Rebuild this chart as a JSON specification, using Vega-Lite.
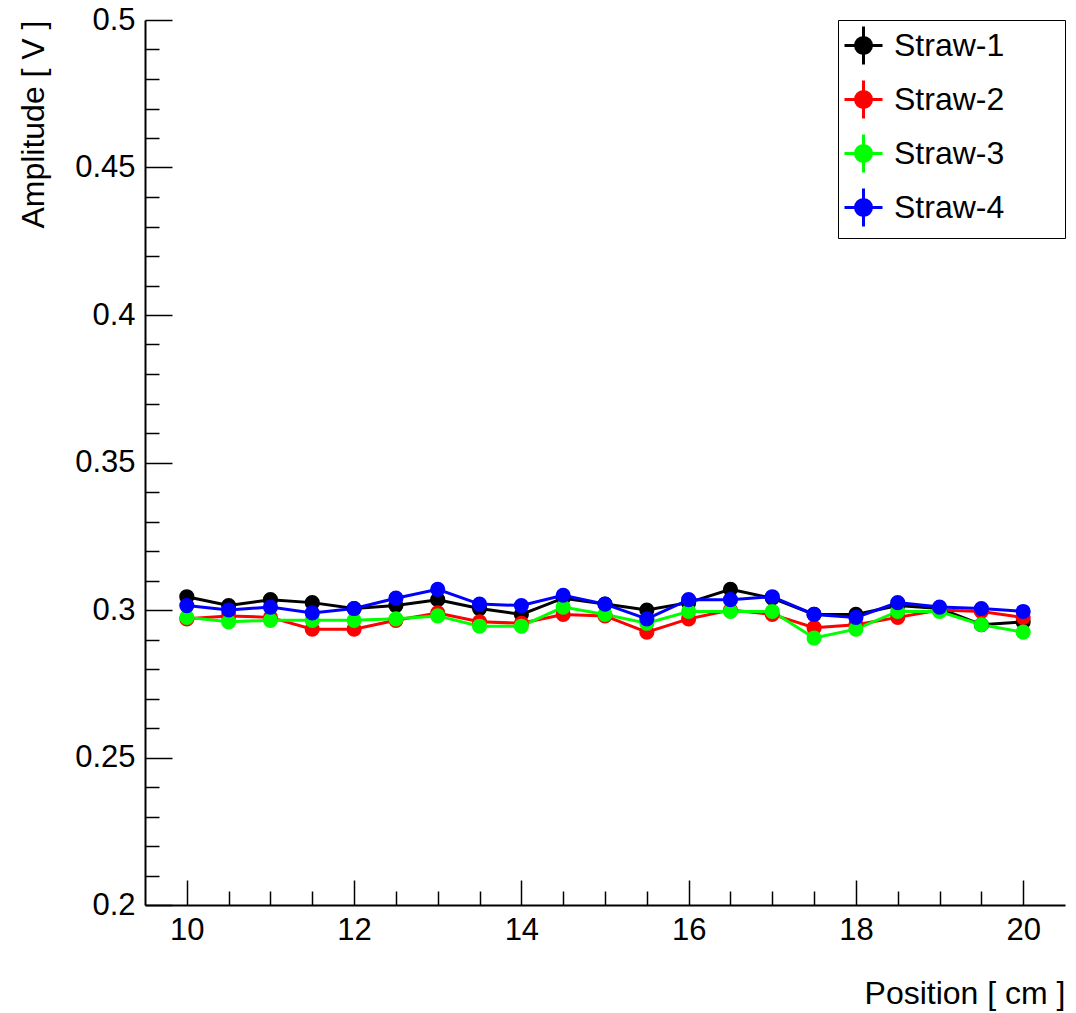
{
  "$schema": "https://vega.github.io/schema/vega-lite/v6.json",
  "width": 920,
  "height": 885,
  "autosize": "none",
  "padding": {"left": 145, "top": 20, "right": 11, "bottom": 108},
  "background": "white",
  "config": {
    "view": {"stroke": null},
    "font": "Liberation Sans",
    "axis": {"grid": false, "domainColor": "black", "domainWidth": 2, "tickColor": "black", "tickWidth": 1.5, "labelColor": "black", "titleColor": "black", "labelFont": "Liberation Sans", "titleFont": "Liberation Sans", "titleFontWeight": "normal"}
  },
  "data": {"values": [
    {"x": 10, "amp": 0.3045, "straw": "Straw-1"}, {"x": 10.5, "amp": 0.3015, "straw": "Straw-1"}, {"x": 11, "amp": 0.3035, "straw": "Straw-1"}, {"x": 11.5, "amp": 0.3025, "straw": "Straw-1"}, {"x": 12, "amp": 0.3005, "straw": "Straw-1"}, {"x": 12.5, "amp": 0.3015, "straw": "Straw-1"}, {"x": 13, "amp": 0.3035, "straw": "Straw-1"}, {"x": 13.5, "amp": 0.3005, "straw": "Straw-1"}, {"x": 14, "amp": 0.2985, "straw": "Straw-1"}, {"x": 14.5, "amp": 0.304, "straw": "Straw-1"}, {"x": 15, "amp": 0.302, "straw": "Straw-1"}, {"x": 15.5, "amp": 0.3, "straw": "Straw-1"}, {"x": 16, "amp": 0.3025, "straw": "Straw-1"}, {"x": 16.5, "amp": 0.307, "straw": "Straw-1"}, {"x": 17, "amp": 0.304, "straw": "Straw-1"}, {"x": 17.5, "amp": 0.2985, "straw": "Straw-1"}, {"x": 18, "amp": 0.2985, "straw": "Straw-1"}, {"x": 18.5, "amp": 0.3015, "straw": "Straw-1"}, {"x": 19, "amp": 0.3005, "straw": "Straw-1"}, {"x": 19.5, "amp": 0.295, "straw": "Straw-1"}, {"x": 20, "amp": 0.296, "straw": "Straw-1"},
    {"x": 10, "amp": 0.297, "straw": "Straw-2"}, {"x": 10.5, "amp": 0.298, "straw": "Straw-2"}, {"x": 11, "amp": 0.2975, "straw": "Straw-2"}, {"x": 11.5, "amp": 0.2935, "straw": "Straw-2"}, {"x": 12, "amp": 0.2935, "straw": "Straw-2"}, {"x": 12.5, "amp": 0.2965, "straw": "Straw-2"}, {"x": 13, "amp": 0.299, "straw": "Straw-2"}, {"x": 13.5, "amp": 0.296, "straw": "Straw-2"}, {"x": 14, "amp": 0.2955, "straw": "Straw-2"}, {"x": 14.5, "amp": 0.2985, "straw": "Straw-2"}, {"x": 15, "amp": 0.298, "straw": "Straw-2"}, {"x": 15.5, "amp": 0.2925, "straw": "Straw-2"}, {"x": 16, "amp": 0.297, "straw": "Straw-2"}, {"x": 16.5, "amp": 0.3, "straw": "Straw-2"}, {"x": 17, "amp": 0.2985, "straw": "Straw-2"}, {"x": 17.5, "amp": 0.294, "straw": "Straw-2"}, {"x": 18, "amp": 0.295, "straw": "Straw-2"}, {"x": 18.5, "amp": 0.2975, "straw": "Straw-2"}, {"x": 19, "amp": 0.3, "straw": "Straw-2"}, {"x": 19.5, "amp": 0.2995, "straw": "Straw-2"}, {"x": 20, "amp": 0.2975, "straw": "Straw-2"},
    {"x": 10, "amp": 0.2975, "straw": "Straw-3"}, {"x": 10.5, "amp": 0.296, "straw": "Straw-3"}, {"x": 11, "amp": 0.2965, "straw": "Straw-3"}, {"x": 11.5, "amp": 0.2965, "straw": "Straw-3"}, {"x": 12, "amp": 0.2965, "straw": "Straw-3"}, {"x": 12.5, "amp": 0.297, "straw": "Straw-3"}, {"x": 13, "amp": 0.298, "straw": "Straw-3"}, {"x": 13.5, "amp": 0.2945, "straw": "Straw-3"}, {"x": 14, "amp": 0.2945, "straw": "Straw-3"}, {"x": 14.5, "amp": 0.301, "straw": "Straw-3"}, {"x": 15, "amp": 0.2985, "straw": "Straw-3"}, {"x": 15.5, "amp": 0.2955, "straw": "Straw-3"}, {"x": 16, "amp": 0.2995, "straw": "Straw-3"}, {"x": 16.5, "amp": 0.2995, "straw": "Straw-3"}, {"x": 17, "amp": 0.2995, "straw": "Straw-3"}, {"x": 17.5, "amp": 0.2905, "straw": "Straw-3"}, {"x": 18, "amp": 0.2935, "straw": "Straw-3"}, {"x": 18.5, "amp": 0.2995, "straw": "Straw-3"}, {"x": 19, "amp": 0.2995, "straw": "Straw-3"}, {"x": 19.5, "amp": 0.295, "straw": "Straw-3"}, {"x": 20, "amp": 0.2925, "straw": "Straw-3"},
    {"x": 10, "amp": 0.3015, "straw": "Straw-4"}, {"x": 10.5, "amp": 0.3, "straw": "Straw-4"}, {"x": 11, "amp": 0.301, "straw": "Straw-4"}, {"x": 11.5, "amp": 0.299, "straw": "Straw-4"}, {"x": 12, "amp": 0.3005, "straw": "Straw-4"}, {"x": 12.5, "amp": 0.304, "straw": "Straw-4"}, {"x": 13, "amp": 0.307, "straw": "Straw-4"}, {"x": 13.5, "amp": 0.302, "straw": "Straw-4"}, {"x": 14, "amp": 0.3015, "straw": "Straw-4"}, {"x": 14.5, "amp": 0.305, "straw": "Straw-4"}, {"x": 15, "amp": 0.302, "straw": "Straw-4"}, {"x": 15.5, "amp": 0.297, "straw": "Straw-4"}, {"x": 16, "amp": 0.3035, "straw": "Straw-4"}, {"x": 16.5, "amp": 0.3035, "straw": "Straw-4"}, {"x": 17, "amp": 0.3045, "straw": "Straw-4"}, {"x": 17.5, "amp": 0.2985, "straw": "Straw-4"}, {"x": 18, "amp": 0.2975, "straw": "Straw-4"}, {"x": 18.5, "amp": 0.3025, "straw": "Straw-4"}, {"x": 19, "amp": 0.301, "straw": "Straw-4"}, {"x": 19.5, "amp": 0.3005, "straw": "Straw-4"}, {"x": 20, "amp": 0.2995, "straw": "Straw-4"}
  ]},
  "resolve": {"axis": {"x": "independent", "y": "independent"}},
  "layer": [
    {
      "mark": {"type": "line", "strokeWidth": 3},
      "encoding": {
        "x": {"field": "x", "type": "quantitative", "scale": {"domain": [9.5, 20.5], "nice": false, "zero": false},
          "axis": {"orient": "bottom", "values": [10, 12, 14, 16, 18, 20], "tickSize": -25, "labelPadding": 35, "labelFontSize": 31, "labelFlush": false, "labelOverlap": false,
            "title": "Position [ cm ]", "titleFontSize": 32, "titleX": 920, "titleY": 88, "titleAlign": "right", "titleBaseline": "middle", "titleAnchor": null}},
        "y": {"field": "amp", "type": "quantitative", "scale": {"domain": [0.2, 0.5], "nice": false, "zero": false},
          "axis": {"orient": "left", "values": [0.2, 0.25, 0.3, 0.35, 0.4, 0.45, 0.5], "format": "~g", "tickSize": -27, "labelPadding": 37, "labelFontSize": 31, "labelFlush": false, "labelOverlap": false, "labelBaseline": "middle",
            "title": "Amplitude [ V ]", "titleFontSize": 32, "titleAngle": -90, "titleX": -112, "titleY": 0, "titleAlign": "right", "titleBaseline": "middle", "titleAnchor": null}},
        "color": {"field": "straw", "type": "nominal",
          "scale": {"domain": ["Straw-1", "Straw-2", "Straw-3", "Straw-4"], "range": ["#000000", "#ff0000", "#00ff00", "#0000ff"]},
          "legend": {"title": null, "orient": "top-right", "offset": 0, "padding": 5, "strokeColor": "black", "fillColor": "white",
            "labelFontSize": 32, "labelColor": "black", "labelFont": "Liberation Sans", "labelOffset": 10, "rowPadding": 3, "labelLimit": 400,
            "labelExpr": "datum.label + '\u2003\u2800'",
            "symbolType": "M-1,0L1,0M0,-1L0,1M0.42,0A0.42,0.42 0 1,1 -0.42,0A0.42,0.42 0 1,1 0.42,0Z",
            "symbolSize": 1444, "symbolStrokeWidth": 3,
            "encode": {"symbols": {"update": {"fill": {"scale": "color", "field": "value"}, "stroke": {"scale": "color", "field": "value"}, "opacity": {"value": 1}}}}}}
      }
    },
    {
      "mark": {"type": "point", "filled": true, "size": 230, "opacity": 1},
      "encoding": {
        "x": {"field": "x", "type": "quantitative",
          "axis": {"orient": "bottom", "values": [10.5, 11, 11.5, 12.5, 13, 13.5, 14.5, 15, 15.5, 16.5, 17, 17.5, 18.5, 19, 19.5], "tickSize": -14, "labels": false, "domain": false, "title": null}},
        "y": {"field": "amp", "type": "quantitative",
          "axis": {"orient": "left", "values": [0.21, 0.22, 0.23, 0.24, 0.26, 0.27, 0.28, 0.29, 0.31, 0.32, 0.33, 0.34, 0.36, 0.37, 0.38, 0.39, 0.41, 0.42, 0.43, 0.44, 0.46, 0.47, 0.48, 0.49], "tickSize": -14, "labels": false, "domain": false, "title": null}},
        "color": {"field": "straw", "type": "nominal"}
      }
    }
  ]
}
